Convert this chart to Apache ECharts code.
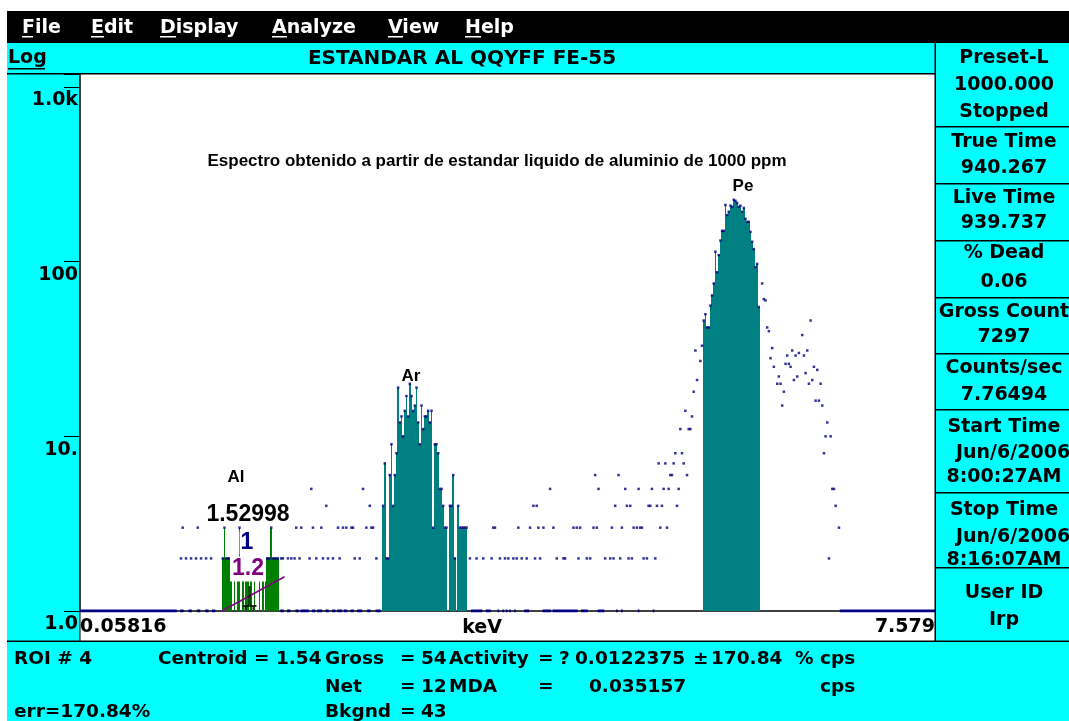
<!DOCTYPE html>
<html>
<head>
<meta charset="utf-8">
<style>
html, body { margin: 0; padding: 0; background: #fff; }
#main { width: 1069px; height: 721px; }
</style>
<script src="https://cdn.jsdelivr.net/npm/echarts@6/dist/echarts.min.js"></script>
</head>
<body>
<div id="main"></div>
<script>
// energy calibration of the 512 channel axis
var keVStart = 0.05816, keVEnd = 7.579, nChannels = 512;
var yTickLabels = {1: '1.0', 10: '10.', 100: '100', 1000: '1.0k'};
var yMax = 1186;

// ROI peaks: first channel + counts per channel
var alStart = 85;
var alCounts = [2, 3, 2, 2, 2, 2, 1, 2, 1, 2, 3, 1, 2, 1, 2, 2, 1, 2, 1, 2, 1, 1, 2, 1, 2, 1, 2, 2, 2, 3, 2, 2, 2, 2];
var arStart = 181;
var arCounts = [4, 7, 2, 2, 6, 9, 4, 6, 8, 19, 12, 13, 10, 14, 17, 13, 20, 17, 14, 15, 19, 12, 9, 15, 11, 13, 13, 14, 12, 14,
    3, 9, 9, 8, 5, 5, 4, 3, 3, 0, 4, 4, 6, 2, 0, 4, 3, 3, 3, 3, 3];
var peStart = 373;
var peCounts = [46, 50, 42, 42, 56, 64, 75, 114, 87, 109, 132, 150, 150, 211, 185, 193, 209, 206, 226, 223, 217, 206, 209,
    193, 203, 176, 169, 169, 148, 130, 118, 93, 97, 55];

// channels outside the ROIs: [channel, counts]
var bgPoints = [
    [60, 2], [61, 3], [63, 2], [66, 2], [69, 2], [70, 3], [72, 2], [75, 2], [78, 2],
    [120, 2], [121, 2], [124, 2], [126, 2], [128, 2], [129, 3], [131, 2], [132, 3], [137, 2], [138, 5], [139, 3],
    [141, 2], [144, 3], [145, 2], [147, 4], [148, 2], [151, 2], [154, 3], [155, 2], [157, 3], [159, 3], [162, 3],
    [163, 3], [164, 2], [167, 2], [169, 5], [171, 3], [173, 4], [174, 3], [175, 3], [177, 2],
    [233, 2], [237, 2], [241, 2], [246, 2], [247, 3], [248, 3], [251, 2], [254, 2], [256, 2], [259, 2], [261, 2],
    [262, 3], [264, 2], [267, 2], [269, 3], [271, 4], [272, 2], [273, 4], [274, 3], [275, 2], [277, 3], [281, 5],
    [283, 3], [285, 2], [289, 2], [290, 2], [295, 3], [297, 3], [298, 2], [299, 3], [303, 2], [305, 2], [307, 3],
    [308, 6], [309, 3], [310, 5], [314, 2], [317, 2], [318, 3], [319, 2], [320, 4], [322, 6], [323, 2], [324, 3],
    [326, 5], [327, 4], [328, 2], [329, 4], [330, 2], [331, 3], [333, 3], [334, 5], [335, 3], [336, 3], [337, 2],
    [339, 2], [340, 4], [341, 4], [342, 5], [344, 2], [345, 4], [346, 7], [347, 3], [348, 4], [349, 5], [350, 7],
    [351, 3], [352, 5], [353, 6], [354, 6], [355, 7], [356, 8], [357, 4], [358, 5], [359, 11], [360, 8], [361, 7],
    [362, 14], [363, 6], [364, 11], [365, 11], [366, 13], [367, 18], [368, 31], [369, 21], [371, 27], [372, 33],
    [408, 75], [409, 61], [410, 60], [411, 42], [412, 40], [413, 28], [414, 32], [415, 25], [417, 20], [418, 22],
    [419, 20], [420, 15], [421, 18], [422, 26], [423, 29], [424, 26], [425, 25], [426, 31], [427, 21], [428, 29],
    [429, 22], [430, 30], [432, 38], [433, 29], [434, 23], [435, 31], [436, 20], [437, 46], [438, 21], [439, 25],
    [440, 16], [441, 24], [442, 16], [443, 20], [444, 15], [445, 8], [446, 10], [447, 12], [448, 2], [449, 10],
    [450, 5], [451, 5], [452, 4], [454, 3]
];

// empty channels, drawn on the baseline: [from, to]
var zeroRuns = [
    [0, 57], [60, 61], [65, 66], [70, 71], [75, 76], [79, 80], [120, 121], [124, 125], [129, 130], [132, 136],
    [139, 140], [142, 144], [147, 148], [151, 152], [154, 156], [158, 159], [162, 163], [166, 168], [172, 173],
    [177, 179], [234, 240], [243, 245], [250, 250], [253, 253], [255, 255], [257, 257], [260, 260], [266, 268],
    [277, 281], [283, 297], [300, 303], [310, 313], [321, 321], [324, 324], [334, 334], [343, 343], [455, 511]
];

// ROI 4 background line and cursor
var roiLine = [[85, 1], [122.5, 1.57]];
var cursorChannel = 101;

var CYAN = '#00ffff', TEAL = '#008080', NAVY = '#000080', GREEN = '#008000', PURPLE = '#800080';
var FONT = '"DejaVu Sans"';

function roiData(start, counts) {
    var out = [];
    counts.forEach(function (c, i) {
        if (c > 1) out.push([start + i + 0.5, c]);
    });
    return out;
}

// one rect per channel, snapped to whole pixels so neighbours join cleanly
function barRenderer(color) {
    return function (params, api) {
        var x = api.value(0), v = api.value(1);
        var top = api.coord([x, v]);
        var base = api.coord([x, 1]);
        var x0 = Math.round(api.coord([x - 0.5, v])[0]);
        var x1 = Math.round(api.coord([x + 0.5, v])[0]);
        return {
            type: 'rect',
            shape: {x: x0, y: Math.round(top[1]), width: Math.max(1, x1 - x0), height: Math.round(base[1]) - Math.round(top[1])},
            style: {fill: color}
        };
    };
}

var tealData = roiData(arStart, arCounts).concat(roiData(peStart, peCounts));
var greenData = roiData(alStart, alCounts);
var dotData = bgPoints.map(function (p) { return [p[0] + 0.5, p[1]]; }).concat(tealData, greenData);

var baseData = [];
zeroRuns.forEach(function (r) {
    baseData.push([r[0], 1], [r[1] + 1, 1], [r[1] + 1, '-']);
});

// window chrome
function rect(x, y, w, h, fill, z) {
    return {type: 'rect', z: z || -10, shape: {x: x, y: y, width: w, height: h}, style: {fill: fill}};
}
function txt(x, y, s, font, color, align, extra) {
    var st = {text: s, font: font, fill: color || '#000', align: align || 'left', verticalAlign: 'middle',
        textAlign: align || 'left', textVerticalAlign: 'middle'};
    if (extra) Object.keys(extra).forEach(function (k) { st[k] = extra[k]; });
    return {type: 'text', x: x, y: y, z: 100, style: st};
}

var graphics = [
    rect(7, 11, 1062, 32, '#000'),
    rect(7, 43, 928, 31, CYAN),
    rect(935, 43, 134, 598, CYAN),
    rect(7, 74, 73, 567, CYAN),
    rect(7, 641, 1062, 80, CYAN),
    rect(7, 73, 928, 1.5, '#000', 50),
    rect(934.5, 43, 1.5, 598, '#000', 50),
    rect(7, 640.5, 1062, 1.5, '#000', 50),
    rect(79.5, 611, 1, 30, '#000', 50)
];
[126, 183, 240, 297, 353, 409, 492, 567].forEach(function (y) {
    graphics.push(rect(935, y, 134, 1.5, '#000', 50));
});

var menuFont = 'bold 19px ' + FONT;
[[22, 'File', 11], [91, 'Edit', 13], [160, 'Display', 16], [272, 'Analyze', 15], [388, 'View', 15], [465, 'Help', 16]]
    .forEach(function (m) {
        graphics.push(txt(m[0], 28, m[1], menuFont, '#fff'));
        graphics.push(rect(m[0], 36, m[2], 1.5, '#fff', 100));
    });

graphics.push(txt(8, 58.5, 'Log', 'bold 19px ' + FONT));
graphics.push(rect(8, 68, 37, 1.5, '#000', 100));
graphics.push(txt(462, 58.5, 'ESTANDAR AL QQYFF FE-55', 'bold 20px ' + FONT, '#000', 'center'));

var panelFont = 'bold 19px ' + FONT;
[[58, 'Preset-L'], [85, '1000.000'], [112, 'Stopped'], [142, 'True Time'], [168, '940.267'], [198, 'Live Time'],
    [223, '939.737'], [253, '% Dead'], [282, '0.06'], [312, 'Gross Count'], [337, '7297'], [368, 'Counts/sec'],
    [395, '7.76494'], [427, 'Start Time'], [477, '8:00:27AM'], [510, 'Stop Time'], [560, '8:16:07AM'],
    [593, 'User ID'], [620, 'Irp']].forEach(function (p) {
    graphics.push(txt(1004, p[0], p[1], panelFont, '#000', 'center'));
});
graphics.push(txt(956, 453, 'Jun/6/2006', panelFont));
graphics.push(txt(956, 537, 'Jun/6/2006', panelFont));

var statusFont = 'bold 18.5px ' + FONT;
[[14, 659, 'ROI # 4'], [158, 659, 'Centroid = 1.54'], [325, 659, 'Gross'], [400, 659, '='], [421, 659, '54'],
    [449, 659, 'Activity'], [538, 659, '='], [559, 659, '?'], [575, 659, '0.0122375'], [693, 659, '±'],
    [711, 659, '170.84'], [795, 659, '%'], [820, 659, 'cps'],
    [325, 687, 'Net'], [400, 687, '='], [421, 687, '12'], [449, 687, 'MDA'], [538, 687, '='], [589, 687, '0.035157'],
    [820, 687, 'cps'],
    [14, 712, 'err=170.84%'], [325, 712, 'Bkgnd'], [400, 712, '='], [421, 712, '43']].forEach(function (s) {
    graphics.push(txt(s[0], s[1], s[2], statusFont));
});

// x axis unit, centred under the channel scale
graphics.push(txt(482, 628, 'keV', 'bold 19px ' + FONT, '#000', 'center'));

// annotations inside the plot
var noteFont = 'bold 17px "Liberation Sans"';
graphics.push(txt(497, 161, 'Espectro obtenido a partir de estandar liquido de aluminio de 1000 ppm', noteFont, '#000', 'center'));
graphics.push(txt(743, 186, 'Pe', noteFont, '#000', 'center'));
graphics.push(txt(411, 376, 'Ar', noteFont, '#000', 'center'));
graphics.push(txt(236, 477, 'Al', noteFont, '#000', 'center'));
var roiFont = 'bold 23px "Liberation Sans"';
graphics.push(txt(248, 515, '1.52998', roiFont, '#000', 'center'));
graphics.push(txt(247, 543, '1', roiFont, NAVY, 'center', {backgroundColor: '#fff', padding: [0, 1]}));
graphics.push(txt(248, 569, '1.2', roiFont, PURPLE, 'center', {backgroundColor: '#fff', padding: [1, 2]}));

var chart = echarts.init(document.getElementById('main'));
chart.setOption({
    backgroundColor: '#fff',
    animation: false,
    grid: {left: 80, top: 74, right: 134, bottom: 110, show: false},
    xAxis: {
        type: 'value',
        min: 0,
        max: nChannels,
        interval: nChannels,
        axisLine: {show: true, lineStyle: {color: '#404040', width: 2}},
        axisTick: {show: false},
        splitLine: {show: false},
        axisLabel: {
            formatter: function (v) { return v === 0 ? String(keVStart) : String(keVEnd); },
            color: '#000', fontFamily: 'DejaVu Sans', fontWeight: 'bold', fontSize: 19,
            margin: 7, alignMinLabel: 'left', alignMaxLabel: 'right'
        }
    },
    yAxis: {
        type: 'log',
        logBase: 10,
        min: 1,
        max: yMax,
        axisLine: {show: true, lineStyle: {color: '#000', width: 1.5}},
        axisTick: {show: true, length: 16, lineStyle: {color: '#000', width: 1}},
        splitLine: {show: false},
        axisLabel: {
            formatter: function (v) { return yTickLabels[Math.round(v)] || ''; },
            color: '#000', fontFamily: 'DejaVu Sans', fontWeight: 'bold', fontSize: 19,
            align: 'right', verticalAlign: 'top', margin: 2, padding: [4, 0, 0, 0]
        }
    },
    graphic: {elements: graphics},
    series: [
        {
            type: 'line', data: baseData, symbol: 'none', connectNulls: false, z: 3,
            lineStyle: {color: NAVY, width: 3}
        },
        {type: 'custom', data: tealData, renderItem: barRenderer(TEAL), clip: true, z: 2},
        {type: 'custom', data: greenData, renderItem: barRenderer(GREEN), clip: true, z: 2},
        {
            type: 'scatter', data: dotData, symbol: 'rect', symbolSize: 2.5, z: 4,
            itemStyle: {color: NAVY}
        },
        {
            type: 'line', data: roiLine, symbol: 'none', z: 5,
            lineStyle: {color: PURPLE, width: 1.5}
        },
        {
            type: 'scatter', data: [[cursorChannel + 0.5, 1]], z: 6,
            symbol: 'path://M6,0h2v19h6v2h-2v3h-2v-3h-6v3h-2v-3h-2v-2h6z',
            symbolSize: [14, 24], symbolOffset: [0, -13], itemStyle: {color: '#000'}
        }
    ]
});
</script>
</body>
</html>
